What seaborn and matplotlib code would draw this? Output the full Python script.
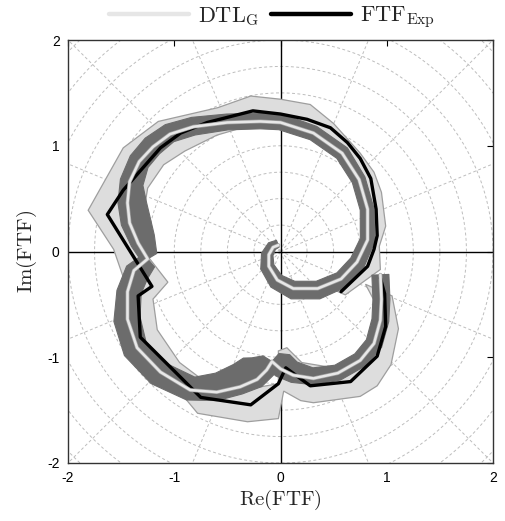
import numpy as np
import pandas as pd
import matplotlib
matplotlib.use("Agg")
import matplotlib.pyplot as plt
from matplotlib.lines import Line2D
from matplotlib.patches import Polygon
import matplotlib.patheffects as pe
import seaborn as sns

# ---------------- data ----------------
# Measured flame transfer function (Nyquist points)
exp_re = [0.94, 0.98, 0.99, 0.91, 0.66, 0.28, 0.05, -0.02, -0.28, -0.75, -1.32, -1.34,
          -1.21, -1.63, -1.48, -1.13, -0.94, -0.69, -0.26, 0.00, 0.25, 0.47, 0.63, 0.75,
          0.85, 0.90, 0.91, 0.88, 0.82, 0.57]
exp_im = [-0.25, -0.40, -0.71, -0.99, -1.23, -1.27, -1.10, -1.25, -1.45, -1.38, -0.81, -0.42,
          -0.33, 0.35, 0.58, 0.98, 1.12, 1.22, 1.33, 1.30, 1.25, 1.17, 1.03, 0.88,
          0.69, 0.40, 0.15, 0.02, -0.14, -0.38]

# Measurement uncertainty envelope: outer edge, then inner edge (reverse order)
exp_outer_re = [1.05, 1.11, 1.04, 0.91, 0.75, 0.31, 0.19, 0.03, -0.02, -0.31, -0.78, -1.07,
                -1.32, -1.44, -1.57, -1.81, -1.48, -1.15, -0.59, -0.28, 0.00, 0.28, 0.50,
                0.75, 0.88, 0.95, 0.99, 0.93, 0.94, 0.72, 0.61]
exp_outer_im = [-0.42, -0.73, -1.07, -1.27, -1.37, -1.43, -1.41, -1.32, -1.58, -1.61, -1.53, -1.18,
                -0.86, -0.36, 0.02, 0.39, 0.98, 1.23, 1.36, 1.47, 1.44, 1.39, 1.21,
                0.93, 0.75, 0.56, 0.24, 0.05, -0.17, -0.33, -0.41]
exp_inner_re = [0.52, 0.72, 0.80, 0.82, 0.82, 0.76, 0.66, 0.55, 0.40, 0.22, 0.00, -0.26,
                -0.60, -0.90, -1.10, -1.25, -1.30, -1.30, -1.06, -1.20, -1.16, -0.95, -0.66,
                -0.30, -0.02, -0.02, 0.06, 0.20, 0.50, 0.75, 0.88, 0.90, 0.80]
exp_inner_im = [-0.37, -0.18, 0.00, 0.15, 0.40, 0.64, 0.83, 0.96, 1.08, 1.15, 1.18, 1.20,
                1.10, 0.95, 0.82, 0.60, 0.30, 0.02, -0.29, -0.45, -0.74, -1.05, -1.27,
                -1.30, -1.25, -0.94, -0.91, -1.05, -1.10, -0.98, -0.75, -0.50, -0.31]

# DTL_G model, three branches between phase jumps, with envelope half-widths
dtl_a_re = [0.94, 0.95, 0.94, 0.88, 0.75, 0.54, 0.31, 0.12, 0.00, -0.08]
dtl_a_im = [-0.22, -0.45, -0.65, -0.87, -1.03, -1.15, -1.20, -1.17, -1.11, -1.04]
dtl_a_out = [0.08, 0.08, 0.08, 0.08, 0.07, 0.07, 0.06, 0.07, 0.08, 0.08]
dtl_a_in = [0.08, 0.08, 0.08, 0.08, 0.08, 0.08, 0.10, 0.13, 0.16, 0.10]

dtl_b_re = [-0.08, -0.13, -0.22, -0.38, -0.60, -0.85, -1.13, -1.35, -1.44, -1.44, -1.38, -1.25]
dtl_b_im = [-1.04, -1.12, -1.21, -1.28, -1.33, -1.31, -1.14, -0.91, -0.64, -0.38, -0.18, -0.07]
dtl_b_out = [0.08, 0.08, 0.08, 0.07, 0.08, 0.10, 0.14, 0.14, 0.13, 0.10, 0.08, 0.06]
dtl_b_in = [0.10, 0.18, 0.24, 0.22, 0.18, 0.13, 0.10, 0.10, 0.12, 0.13, 0.15, 0.10]

dtl_c_re = [-1.25, -1.34, -1.42, -1.44, -1.42, -1.33, -1.20, -1.04, -0.82, -0.50, -0.19, 0.00,
            0.31, 0.58, 0.74, 0.82, 0.82, 0.72, 0.57, 0.35, 0.12, -0.03, -0.11, -0.11, -0.07,
            -0.02]
dtl_c_im = [-0.07, 0.08, 0.27, 0.46, 0.66, 0.85, 0.99, 1.11, 1.18, 1.22, 1.23, 1.22,
            1.12, 0.93, 0.68, 0.40, 0.11, -0.10, -0.26, -0.35, -0.35, -0.27, -0.14, -0.03, 0.04,
            0.06]
dtl_c_out = [0.06, 0.07, 0.08, 0.09, 0.09, 0.10, 0.11, 0.10, 0.09, 0.08, 0.08, 0.08,
             0.07, 0.07, 0.06, 0.06, 0.07, 0.08, 0.09, 0.10, 0.10, 0.09, 0.08, 0.07, 0.06,
             0.05]
dtl_c_in = [0.10, 0.17, 0.20, 0.18, 0.13, 0.10, 0.09, 0.08, 0.08, 0.07, 0.07, 0.07,
            0.07, 0.07, 0.07, 0.07, 0.07, 0.07, 0.07, 0.07, 0.07, 0.06, 0.05, 0.04, 0.03,
            0.02]

tick_vals = [-2, -1, 0, 1, 2]
tick_text = ["-2", "-1", "0", "1", "2"]

# ---------------- style ----------------
sns.set_theme(style="white")
plt.rcParams["font.family"] = ["Liberation Sans", "DejaVu Sans"]
plt.rcParams["mathtext.fontset"] = "cm"
plt.rcParams["axes.unicode_minus"] = False

fig = plt.figure(figsize=(5.05, 5.21), dpi=100)
ax = fig.add_axes([68 / 505, 58 / 521, 425 / 505, 423 / 521])
ax.set_xlim(-2, 2)
ax.set_ylim(-2, 2)

# polar grid
theta = np.linspace(0, 2 * np.pi, 400)
for r in np.arange(0.25, 2.80, 0.25):
    ax.plot(r * np.cos(theta), r * np.sin(theta), color="#bdbdbd", lw=0.7,
            ls=(0, (3, 2.5)), zorder=0)
for ang in np.arange(0, 360, 22.5):
    if ang % 90 == 0:
        continue
    a = np.deg2rad(ang)
    ax.plot([0, 3 * np.cos(a)], [0, 3 * np.sin(a)], color="#bdbdbd", lw=0.7,
            ls=(0, (3, 2.5)), zorder=0)
ax.axhline(0, color="black", lw=1.0, zorder=1)
ax.axvline(0, color="black", lw=1.0, zorder=1)

# measurement envelope
env = np.column_stack([exp_outer_re + exp_inner_re, exp_outer_im + exp_inner_im])
ax.add_patch(Polygon(env, closed=True, facecolor="#dddddd", edgecolor="#9e9e9e",
                     lw=0.9, zorder=2))


def band(re, im, w_out, w_in):
    p = np.column_stack([re, im])
    t = np.gradient(p, axis=0)
    t /= np.linalg.norm(t, axis=1)[:, None]
    n = np.column_stack([-t[:, 1], t[:, 0]])
    outer = p + np.asarray(w_out)[:, None] * n
    inner = p - np.asarray(w_in)[:, None] * n
    return np.vstack([outer, inner[::-1]])


for re, im, wo, wi in [(dtl_a_re, dtl_a_im, dtl_a_out, dtl_a_in),
                       (dtl_b_re, dtl_b_im, dtl_b_out, dtl_b_in),
                       (dtl_c_re, dtl_c_im, dtl_c_out, dtl_c_in)]:
    ax.add_patch(Polygon(band(re, im, wo, wi), closed=True, facecolor="#6c6c6c",
                         edgecolor="#6c6c6c", lw=0.8, joinstyle="round", zorder=3))

# measured FTF
df_exp = pd.DataFrame({"re": exp_re, "im": exp_im})
sns.lineplot(data=df_exp, x="re", y="im", sort=False, estimator=None, color="black",
             lw=2.4, ax=ax, zorder=4)

# DTL_G curve
df_dtl = pd.DataFrame({"re": dtl_a_re + dtl_b_re[1:] + dtl_c_re[1:],
                       "im": dtl_a_im + dtl_b_im[1:] + dtl_c_im[1:]})
sns.lineplot(data=df_dtl, x="re", y="im", sort=False, estimator=None, color="#e8e8e8",
             lw=1.8, ax=ax, zorder=5,
             path_effects=[pe.Stroke(linewidth=2.8, foreground="#a0a0a0"), pe.Normal()])

# axes cosmetics
ax.set_xticks(tick_vals)
ax.set_yticks(tick_vals)
ax.set_xticklabels(tick_text, fontsize=10)
ax.set_yticklabels(tick_text, fontsize=10)
ax.tick_params(direction="in", length=4, width=0.8, top=True, right=True,
               labeltop=False, labelright=False, colors="black", pad=6)
for s in ax.spines.values():
    s.set_visible(True)
    s.set_color("#333333")
    s.set_linewidth(1.0)
ax.set_xlabel(r"$\mathrm{Re(FTF)}$", fontsize=15, labelpad=2)
ax.set_ylabel(r"$\mathrm{Im(FTF)}$", fontsize=15, labelpad=6)

handles = [Line2D([], [], color="#e6e6e6", lw=3.2),
           Line2D([], [], color="black", lw=3.2)]
ax.legend(handles, [r"$\mathrm{DTL_G}$", r"$\mathrm{FTF_{Exp}}$"], loc="lower center",
          bbox_to_anchor=(0.48, 1.0), ncol=2, frameon=False, fontsize=16,
          handlelength=3.6, handletextpad=0.4, columnspacing=0.5, borderaxespad=0.0)

fig.savefig("out.png", dpi=100)
